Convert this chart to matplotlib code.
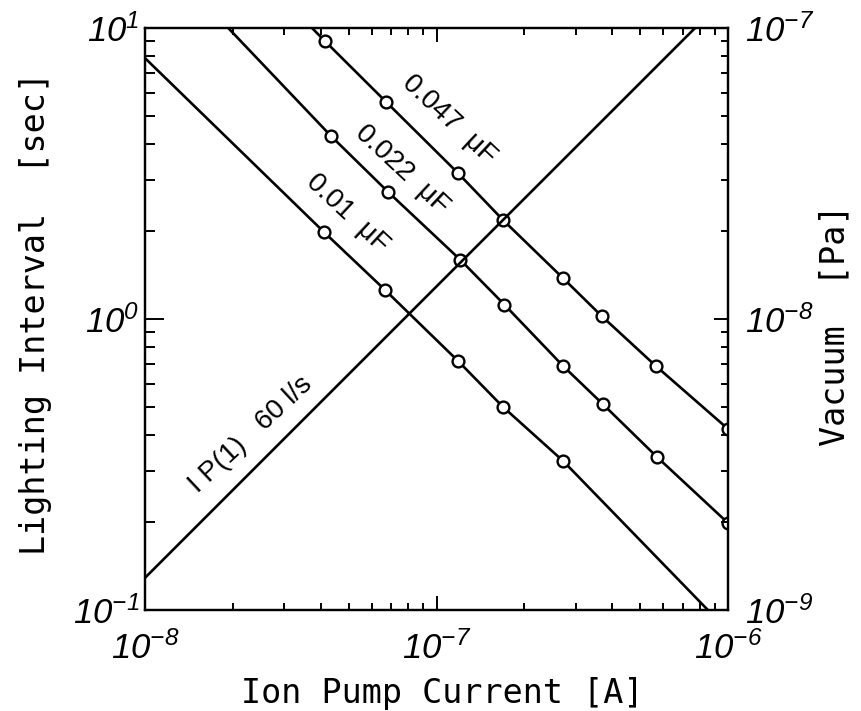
import matplotlib
matplotlib.use("Agg")
import matplotlib.pyplot as plt
from matplotlib.ticker import FixedLocator, FuncFormatter, LogLocator, NullFormatter

plt.rcParams["mathtext.fontset"] = "custom"
plt.rcParams["mathtext.rm"] = "Liberation Sans:italic"
plt.rcParams["mathtext.it"] = "Liberation Sans:italic"
plt.rcParams["mathtext.sf"] = "Liberation Sans:italic"

# Lighting interval [s] versus ion pump current [A] for three capacitors
x_001 = [4.11e-8, 6.65e-8, 1.186e-7, 1.69e-7, 2.72e-7]
y_001 = [1.99, 1.26, 0.717, 0.499, 0.325]
line_x_001 = [1.0e-8] + x_001 + [8.53e-7]
line_y_001 = [7.88] + y_001 + [0.1]

x_0022 = [4.35e-8, 6.83e-8, 1.205e-7, 1.71e-7, 2.72e-7, 3.72e-7, 5.70e-7, 1.0e-6]
y_0022 = [4.25, 2.73, 1.60, 1.12, 0.689, 0.510, 0.336, 0.199]
line_x_0022 = [1.93e-8] + x_0022
line_y_0022 = [10.0] + y_0022

x_0047 = [4.14e-8, 6.72e-8, 1.186e-7, 1.69e-7, 2.72e-7, 3.70e-7, 5.66e-7, 1.0e-6]
y_0047 = [9.02, 5.57, 3.17, 2.19, 1.38, 1.02, 0.689, 0.419]
line_x_0047 = [3.74e-8] + x_0047
line_y_0047 = [10.0] + y_0047

# Vacuum [Pa] reached by the IP(1) 60 l/s pump versus current
ip_x = [1.0e-8, 7.71e-7]
ip_y = [1.29e-9, 1.0e-7]

cap_labels = ["0.01  \u03bcF", "0.022  \u03bcF", "0.047  \u03bcF"]
cap_label_pos = [(4.93e-8, 2.31), (7.62e-8, 3.25), (1.10e-7, 4.83)]
ip_label = "I P(1)   60 l/s"
ip_label_pos = (2.31e-8, 0.399)

x_ticks = [1e-8, 1e-7, 1e-6]
x_tick_labels = [r"$10^{-8}$", r"$10^{-7}$", r"$10^{-6}$"]
yl_ticks = [1e-1, 1e0, 1e1]
yl_tick_labels = [r"$10^{-1}$", r"$10^{0}$", r"$10^{1}$"]
yr_ticks = [1e-9, 1e-8, 1e-7]
yr_tick_labels = [r"$10^{-9}$", r"$10^{-8}$", r"$10^{-7}$"]

fig = plt.figure(figsize=(8.62, 7.11), dpi=100)
ax = fig.add_axes([145 / 862, 1 - 610 / 711, 583 / 862, 582 / 711])
ax2 = ax.twinx()

lw = 1.9
mk = dict(marker="o", linestyle="none", markersize=8.5, markerfacecolor="white",
          markeredgecolor="black", markeredgewidth=1.7, zorder=4)

for lx, ly, mx, my in [(line_x_001, line_y_001, x_001, y_001),
                       (line_x_0022, line_y_0022, x_0022, y_0022),
                       (line_x_0047, line_y_0047, x_0047, y_0047)]:
    ax.plot(lx, ly, color="black", linewidth=lw, zorder=3)
    ax.plot(mx, my, **mk)

ax2.plot(ip_x, ip_y, color="black", linewidth=lw)

ax.set_xscale("log")
ax.set_yscale("log")
ax2.set_yscale("log")
ax.set_xlim(1e-8, 1e-6)
ax.set_ylim(1e-1, 1e1)
ax2.set_ylim(1e-9, 1e-7)


def fixed_labels(labels):
    return FuncFormatter(lambda v, p: labels[p] if p is not None and p < len(labels) else "")


ax.xaxis.set_major_locator(FixedLocator(x_ticks))
ax.xaxis.set_major_formatter(fixed_labels(x_tick_labels))
ax.xaxis.set_minor_locator(LogLocator(base=10, subs=range(2, 10), numticks=20))
ax.xaxis.set_minor_formatter(NullFormatter())
ax.yaxis.set_major_locator(FixedLocator(yl_ticks))
ax.yaxis.set_major_formatter(fixed_labels(yl_tick_labels))
ax.yaxis.set_minor_locator(LogLocator(base=10, subs=range(2, 10), numticks=20))
ax.yaxis.set_minor_formatter(NullFormatter())
ax2.yaxis.set_major_locator(FixedLocator(yr_ticks))
ax2.yaxis.set_major_formatter(fixed_labels(yr_tick_labels))
ax2.yaxis.set_minor_locator(LogLocator(base=10, subs=range(2, 10), numticks=20))
ax2.yaxis.set_minor_formatter(NullFormatter())

ax.tick_params(axis="x", which="both", direction="in", top=True, bottom=True,
               labelsize=25, pad=15, width=1.4)
ax.tick_params(axis="x", which="major", length=10)
ax.tick_params(axis="x", which="minor", length=5)
ax.tick_params(axis="y", which="both", direction="in", left=True, right=False,
               labelsize=25, pad=4, width=1.4)
ax.tick_params(axis="y", which="major", length=14)
ax.tick_params(axis="y", which="minor", length=7)
ax2.tick_params(axis="y", which="both", direction="in", right=True,
                labelsize=25, pad=12, width=1.4)
ax2.tick_params(axis="y", which="major", length=10)
ax2.tick_params(axis="y", which="minor", length=5)

for a in (ax, ax2):
    for s in a.spines.values():
        s.set_linewidth(1.6)

label_font = dict(family="DejaVu Sans Mono", size=24)
ax.set_xlabel("Ion Pump Current [A]", **label_font)
ax.set_ylabel("Lighting Interval  [sec]", **label_font)
ax2.set_ylabel("Vacuum  [Pa]", **label_font)
ax.xaxis.set_label_coords(0.51, -0.115)
ax.yaxis.set_label_coords(-0.16, 0.51)
ax2.yaxis.set_label_coords(1.155, 0.49)

text_font = dict(family="Liberation Sans", size=20, ha="center", va="center",
                 rotation_mode="anchor")
for lab, (tx, ty) in zip(cap_labels, cap_label_pos):
    ax.text(tx, ty, lab, rotation=-43, **text_font)
ax.text(ip_label_pos[0], ip_label_pos[1], ip_label, rotation=43, **text_font)

fig.savefig("out.png", dpi=100)
